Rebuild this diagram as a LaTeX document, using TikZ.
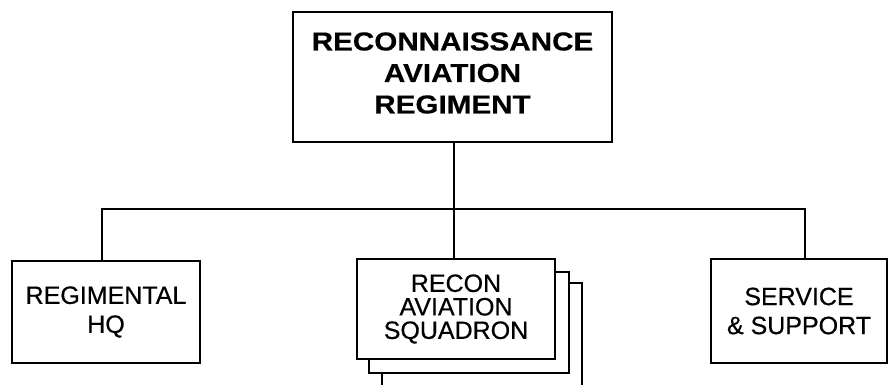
\documentclass[tikz,border=0pt]{standalone}
\usepackage{fontspec}
\setmainfont[FakeBold=0.5]{Liberation Sans}
\newfontfamily\wideb[FakeStretch=1.14,FakeBold=0.4]{Liberation Sans Bold}
\begin{document}
\begin{tikzpicture}[x=1pt,y=-1pt,
  box/.style={draw=black,line width=2pt,fill=white,rectangle,inner sep=0pt,align=center},
  lowtext/.style={font=\fontsize{25}{29}\selectfont},
  link/.style={draw=black,line width=2pt}]
\useasboundingbox (0,0) rectangle (888,385);
\clip (0,0) rectangle (888,385);
% top
\node[box,minimum width=319pt,minimum height=130pt] (top) at (452.5,77) {};
\node[inner sep=0pt,align=center,font=\wideb\fontsize{26}{31.5}\selectfont] (toptext) at (452.5,73)
  {RECONNAISSANCE\\AVIATION\\REGIMENT};
% left
\node[box,lowtext,minimum width=188pt,minimum height=102pt] (hq) at (106,312)
  {REGIMENTAL\\HQ};
% stacked squadron boxes
\node[box,minimum width=200pt,minimum height=107pt] (sq3) at (482,336.5) {};
\node[box,minimum width=200pt,minimum height=101pt] (sq2) at (469,322.5) {};
\node[box,font=\fontsize{25}{23.5}\selectfont,minimum width=198pt,minimum height=100pt] (sq) at (456,309)
  {RECON\\AVIATION\\SQUADRON};
% right
\node[box,lowtext,minimum width=176pt,minimum height=104pt] (svc) at (799,311)
  {SERVICE\\\& SUPPORT};
% connectors
\coordinate (bus) at (454,209);
\draw[link] (top.south -| bus) -- (sq.north -| bus);
\draw[link] (hq.north -| 102,0) |- (bus) -| (svc.north -| 805,0);
\end{tikzpicture}
\end{document}
